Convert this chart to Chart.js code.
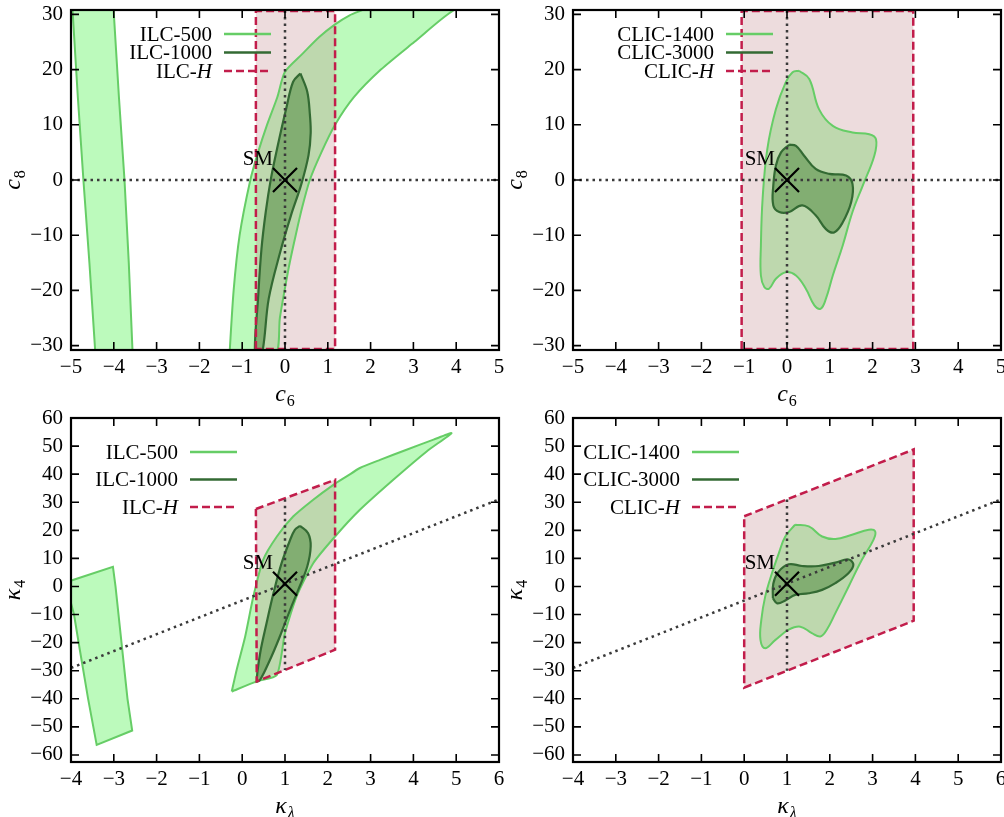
<!DOCTYPE html>
<html>
<head>
<meta charset="utf-8">
<script src="https://cdn.jsdelivr.net/npm/chart.js@4.4.1/dist/chart.umd.min.js"></script>
<style>
  body { margin: 0; background: #fff; }
  #wrap { position: relative; width: 1004px; height: 817px; overflow: hidden; }
  canvas { position: absolute; }
</style>
</head>
<body>
<div id="wrap">
  <!-- left canvases are a bit wider so the last x label is not cut; right ones sit on top -->
  <canvas id="p1" width="514" height="408" style="left:0;top:0"></canvas>
  <canvas id="p3" width="514" height="409" style="left:0;top:408px"></canvas>
  <canvas id="p2" width="502" height="408" style="left:502px;top:0"></canvas>
  <canvas id="p4" width="502" height="409" style="left:502px;top:408px"></canvas>
</div>
<script>
// tick labels / axis ranges
const c6Ticks = [-5, -4, -3, -2, -1, 0, 1, 2, 3, 4, 5];
const c8Ticks = [-30, -20, -10, 0, 10, 20, 30];
const klTicks = [-4, -3, -2, -1, 0, 1, 2, 3, 4, 5, 6];
const k4Ticks = [-60, -50, -40, -30, -20, -10, 0, 10, 20, 30, 40, 50, 60];
const c6Range = [-5, 5];
const c8Range = [-30.8, 30.8];
const klRange = [-4, 6];
const k4Range = [-62.5, 60];

// SM points
const smC = [0, 0];
const smK = [1, 1];

// top left: ILC in (c6, c8)
const ilc500LeftBand = [[-4.97, 31.5], [-4.84, 15], [-4.71, 0], [-4.57, -15], [-4.43, -31.5],
  [-3.56, -31.5], [-3.65, -15], [-3.75, 0], [-3.88, 15], [-4.01, 31.5], [-4.97, 31.5]];
const ilc500MainBand = [[-1.30, -32], [-1.20, -20], [-1.06, -10], [-0.81, 0], [-0.63, 5], [-0.42, 10],
  [-0.18, 15], [0.0, 19.6], [0.40, 22.8], [0.80, 25.9], [1.17, 28.2], [1.50, 29.8], [1.85, 30.9],
  [2.3, 32.4], [4.6, 32.4],
  [3.95, 30.8], [3.02, 25], [2.24, 20], [1.61, 15], [1.17, 10], [0.85, 5], [0.58, 0], [0.40, -5],
  [0.25, -10], [0.11, -15], [-0.01, -20], [-0.12, -25], [-0.24, -32], [-1.30, -32]];
const ilc1000C = [[0.36, 19.3], [0.52, 16], [0.58, 12], [0.60, 8.5], [0.55, 4.5], [0.38, -0.8],
  [0.14, -6.4], [-0.11, -13], [-0.38, -21.5], [-0.55, -32], [-0.70, -32], [-0.63, -21.5],
  [-0.55, -12.5], [-0.45, -5.8], [-0.33, 0.2], [-0.17, 6.2], [0.03, 13], [0.19, 17.8], [0.36, 19.3]];
const ilcHC = [[-0.68, -30.6], [-0.68, 30.6], [1.17, 30.6], [1.17, -30.6], [-0.68, -30.6]];

// top right: CLIC in (c6, c8)
const clic1400C = [[0.28, 19.8], [0.52, 18.3], [0.75, 12.8], [1.07, 9.8], [1.53, 8.6], [1.92, 8.3],
  [2.08, 7.4], [2.04, 4.4], [1.77, -1], [1.53, -5.8], [1.30, -11.9], [1.07, -17.3], [0.91, -21.5],
  [0.79, -23.3], [0.64, -22.7], [0.44, -19.7], [0.21, -17.3], [-0.03, -16.7], [-0.26, -17.9],
  [-0.42, -19.7], [-0.53, -19.4], [-0.61, -17.3], [-0.61, -11.9], [-0.57, -3.4], [-0.46, 5.6],
  [-0.26, 12.8], [-0.03, 17.7], [0.13, 19.5], [0.28, 19.8]];
const clic3000C = [[0.05, 6.4], [0.21, 6.2], [0.40, 4.4], [0.67, 2.0], [0.99, 1.1], [1.38, 0.8],
  [1.53, -0.7], [1.50, -4.0], [1.30, -7.7], [1.10, -9.5], [0.91, -8.9], [0.67, -6.4], [0.36, -4.6],
  [0.05, -5.8], [-0.18, -5.8], [-0.32, -4.6], [-0.32, -1.0], [-0.26, 2.6], [-0.14, 5.0], [0.05, 6.4]];
const clicHC = [[-1.06, -30.6], [-1.06, 30.6], [2.95, 30.6], [2.95, -30.6], [-1.06, -30.6]];

// bottom left: ILC in (kappa_lambda, kappa_4)
const ilc500LeftQuad = [[-4.12, 1.5], [-3.02, 7.0], [-2.96, 0], [-2.82, -20], [-2.68, -40],
  [-2.57, -51.3], [-3.40, -56.4], [-3.60, -40], [-3.80, -22], [-3.93, -10], [-4.05, -3], [-4.12, 1.5]];
const ilc500MainK = [[-0.245, -37.4], [0.34, -33.8], [0.81, -31.5], [1.0, -16.6], [1.27, -3.6],
  [1.66, 8.3], [2.17, 17.8], [2.75, 27.3], [3.53, 38.0], [4.31, 48.1], [4.89, 54.6], [4.47, 52.3],
  [3.84, 48.7], [3.22, 45.1], [2.75, 42.2], [2.44, 39.2], [2.13, 36.2], [1.66, 30.9], [1.19, 24.9],
  [0.81, 17.8], [0.49, 9.5], [0.26, -3.6], [0.07, -17.8], [-0.13, -29.7], [-0.245, -37.4]];
const ilc1000K = [[1.35, 21.6], [1.54, 19.0], [1.60, 14.3], [1.52, 7.1], [1.31, -1.2], [1.12, -8.3],
  [0.88, -17.8], [0.65, -26.1], [0.42, -33.2], [0.34, -33.8], [0.42, -23.7], [0.57, -13.0],
  [0.73, -2.4], [0.92, 8.3], [1.12, 16.6], [1.23, 20.2], [1.35, 21.6]];
const ilcHK = [[0.32, 27.6], [2.17, 38.0], [2.17, -22.5], [0.34, -33.8], [0.32, 27.6]];

// bottom right: CLIC in (kappa_lambda, kappa_4)
const clic1400K = [[1.19, 22.0], [1.51, 21.4], [1.82, 17.8], [2.13, 16.9], [2.52, 18.4], [2.91, 20.2],
  [3.06, 19.6], [3.02, 16.6], [2.75, 9.5], [2.44, 0], [2.13, -9.5], [1.93, -15.4], [1.78, -17.8],
  [1.58, -16.6], [1.31, -14.3], [1.04, -15.4], [0.73, -19], [0.49, -22], [0.38, -19], [0.40, -11.9],
  [0.49, -3.6], [0.65, 4.8], [0.81, 11.9], [0.96, 17.8], [1.19, 22.0]];
const clic3000K = [[0.67, -4.2], [0.68, 1.0], [0.80, 5.2], [1.04, 7.9], [1.35, 7.3], [1.74, 7.3],
  [2.13, 8.5], [2.44, 9.6], [2.55, 7.7], [2.44, 4.8], [2.13, 1.2], [1.82, -1.2], [1.51, -2.4],
  [1.19, -3.0], [0.96, -5.0], [0.77, -6.0], [0.67, -4.2]];
const clicHK = [[0.0, 25.0], [3.96, 48.8], [3.96, -12.2], [0.0, -36.0], [0.0, 25.0]];

// dotted guide lines
const hLineC = [[-5, 0], [5, 0]];
const vLineC = [[0, -31], [0, 31]];
const diagK = [[-4, -29], [6, 31]];
const vLineIlcK = [[1, 31.1], [1, -29.7]];
const vLineClicK = [[1, 31.0], [1, -30.0]];

const LIGHT_FILL = '#bcfabc';
const LIGHT_LINE = '#66cd66';
const DARK_FILL = '#66bd66';
const DARK_LINE = '#336a33';
const PINK_FILL = 'rgba(195,138,142,0.3)';
const PINK_LINE = '#c21d4b';
const DOT_COLOR = '#3a3a3a';
const FONT = '"Liberation Serif", "Times New Roman", serif';

const pts = arr => arr.map(p => ({ x: p[0], y: p[1] }));
const fmt = v => (v < 0 ? '\u2212' + Math.abs(v) : String(v));

function area(arr, fillColor, lineColor, width, tension) {
  return {
    data: pts(arr), showLine: true, fill: 'shape', backgroundColor: fillColor,
    borderColor: lineColor, borderWidth: width, pointRadius: 0, tension: tension
  };
}
function pinkBox(arr) {
  return {
    data: pts(arr), showLine: true, fill: 'shape', backgroundColor: PINK_FILL,
    borderColor: PINK_LINE, borderWidth: 2.5, borderDash: [8, 4], pointRadius: 0, tension: 0
  };
}
function dotted(arr) {
  return {
    data: pts(arr), showLine: true, fill: false, borderColor: DOT_COLOR,
    borderWidth: 2.5, borderDash: [2.5, 4], pointRadius: 0, tension: 0
  };
}
function smPoint(p) {
  return {
    data: pts([p]), showLine: false, pointStyle: 'crossRot', pointRadius: 17,
    pointBorderWidth: 2.2, pointBorderColor: '#000', pointBackgroundColor: 'transparent'
  };
}

function drawMath(ctx, base, sub, cx, baseline, subItalic) {
  ctx.font = 'italic 24px ' + FONT;
  const wb = ctx.measureText(base).width;
  const subFont = (subItalic ? 'italic ' : '') + '16px ' + FONT;
  ctx.font = subFont;
  const ws = ctx.measureText(sub).width;
  const x0 = cx - (wb + ws + 1) / 2;
  ctx.textAlign = 'left';
  ctx.textBaseline = 'alphabetic';
  ctx.font = 'italic 24px ' + FONT;
  ctx.fillText(base, x0, baseline);
  ctx.font = subFont;
  ctx.fillText(sub, x0 + wb + 1, baseline + 5);
}

const deco = {
  id: 'deco',
  afterDatasetsDraw(chart, args, o) {
    const { ctx, chartArea: a, scales: { x, y } } = chart;
    ctx.save();
    ctx.fillStyle = '#000';
    ctx.strokeStyle = '#000';
    // inward ticks on all sides
    ctx.lineWidth = 1.6;
    ctx.beginPath();
    x.ticks.forEach(t => {
      const px = x.getPixelForValue(t.value);
      ctx.moveTo(px, a.bottom); ctx.lineTo(px, a.bottom - 8);
      ctx.moveTo(px, a.top); ctx.lineTo(px, a.top + 8);
    });
    y.ticks.forEach(t => {
      const py = y.getPixelForValue(t.value);
      ctx.moveTo(a.left, py); ctx.lineTo(a.left + 8, py);
      ctx.moveTo(a.right, py); ctx.lineTo(a.right - 8, py);
    });
    ctx.stroke();
    ctx.lineWidth = 2.2;
    ctx.strokeRect(a.left, a.top, a.right - a.left, a.bottom - a.top);

    // SM label
    const sx = x.getPixelForValue(o.sm[0]), sy = y.getPixelForValue(o.sm[1]);
    ctx.font = '21px ' + FONT;
    ctx.textAlign = 'right';
    ctx.textBaseline = 'alphabetic';
    ctx.fillText('SM', sx - 12, sy - 15);

    // legend
    o.legend.forEach((e, i) => {
      const ly = o.legY + i * o.legDy;
      ctx.font = '21px ' + FONT;
      const w1 = ctx.measureText(e.text).width;
      let w2 = 0;
      if (e.it) { ctx.font = 'italic 21px ' + FONT; w2 = ctx.measureText(e.it).width; }
      ctx.textAlign = 'left';
      ctx.textBaseline = 'middle';
      ctx.font = '21px ' + FONT;
      ctx.fillText(e.text, o.legX - w1 - w2, ly + 1);
      if (e.it) { ctx.font = 'italic 21px ' + FONT; ctx.fillText(e.it, o.legX - w2, ly + 1); }
      ctx.beginPath();
      ctx.strokeStyle = e.color;
      ctx.lineWidth = e.width;
      ctx.setLineDash(e.dash || []);
      ctx.moveTo(o.legX + 12, ly); ctx.lineTo(o.legX + 59, ly);
      ctx.stroke();
      ctx.setLineDash([]);
    });

    // axis titles
    ctx.fillStyle = '#000';
    drawMath(ctx, o.xt[0], o.xt[1], (a.left + a.right) / 2, a.bottom + 51, o.xt[2]);
    ctx.save();
    ctx.translate(14, (a.top + a.bottom) / 2);
    ctx.rotate(-Math.PI / 2);
    drawMath(ctx, o.yt[0], o.yt[1], 0, 6, o.yt[2]);
    ctx.restore();
    ctx.restore();
  }
};

function makeChart(id, datasets, xr, xt, yr, yt, pad, padRight, xh, deco) {
  new Chart(document.getElementById(id), {
    type: 'scatter',
    data: { datasets: datasets },
    plugins: [deco.plugin],
    options: {
      responsive: false,
      animation: false,
      events: [],
      layout: { autoPadding: false, padding: { top: pad, right: padRight, left: 0, bottom: 0 } },
      elements: { line: { capBezierPoints: false } },
      plugins: {
        legend: { display: false },
        tooltip: { enabled: false },
        filler: { drawTime: 'beforeDatasetsDraw' },
        deco: deco.opts
      },
      scales: {
        x: {
          type: 'linear', min: xr[0], max: xr[1],
          afterBuildTicks: s => { s.ticks = xt.map(v => ({ value: v })); },
          afterFit: s => { s.height = xh; s.paddingLeft = 0; s.paddingRight = 0; },
          grid: { display: false, drawTicks: false },
          border: { display: false },
          ticks: { font: { family: FONT, size: 21 }, color: '#000', padding: 5, maxRotation: 0, autoSkip: false, callback: fmt }
        },
        y: {
          type: 'linear', min: yr[0], max: yr[1],
          afterBuildTicks: s => { s.ticks = yt.map(v => ({ value: v })); },
          afterFit: s => { s.width = 71; s.paddingTop = 0; s.paddingBottom = 0; },
          grid: { display: false, drawTicks: false },
          border: { display: false },
          ticks: { font: { family: FONT, size: 21 }, color: '#000', padding: 8, autoSkip: false, callback: fmt }
        }
      }
    }
  });
}

const ilcLegend = [
  { text: 'ILC-500', color: LIGHT_LINE, width: 2.5 },
  { text: 'ILC-1000', color: DARK_LINE, width: 2.5 },
  { text: 'ILC-', it: 'H', color: PINK_LINE, width: 2.5, dash: [8, 4] }
];
const clicLegend = [
  { text: 'CLIC-1400', color: LIGHT_LINE, width: 2.5 },
  { text: 'CLIC-3000', color: DARK_LINE, width: 2.5 },
  { text: 'CLIC-', it: 'H', color: PINK_LINE, width: 2.5, dash: [8, 4] }
];

makeChart('p1', [
  smPoint(smC), dotted(hLineC), dotted(vLineC), pinkBox(ilcHC),
  area(ilc1000C, DARK_FILL, DARK_LINE, 2.2, 0.35),
  area(ilc500MainBand, LIGHT_FILL, LIGHT_LINE, 2, 0.25),
  area(ilc500LeftBand, LIGHT_FILL, LIGHT_LINE, 2, 0)
], c6Range, c6Ticks, c8Range, c8Ticks, 10, 15, 58,
  { plugin: deco, opts: { sm: smC, legend: ilcLegend, legX: 212, legY: 34, legDy: 18.5, xt: ['c', '6'], yt: ['c', '8'] } });

makeChart('p2', [
  smPoint(smC), dotted(hLineC), dotted(vLineC), pinkBox(clicHC),
  area(clic3000C, DARK_FILL, DARK_LINE, 2.2, 0.4),
  area(clic1400C, LIGHT_FILL, LIGHT_LINE, 2, 0.4)
], c6Range, c6Ticks, c8Range, c8Ticks, 10, 3, 58,
  { plugin: deco, opts: { sm: smC, legend: clicLegend, legX: 212, legY: 34, legDy: 18.5, xt: ['c', '6'], yt: ['c', '8'] } });

makeChart('p3', [
  smPoint(smK), dotted(diagK), dotted(vLineIlcK), pinkBox(ilcHK),
  area(ilc1000K, DARK_FILL, DARK_LINE, 2.2, 0.35),
  area(ilc500MainK, LIGHT_FILL, LIGHT_LINE, 2, 0.2),
  area(ilc500LeftQuad, LIGHT_FILL, LIGHT_LINE, 2, 0)
], klRange, klTicks, k4Range, k4Ticks, 10, 15, 55,
  { plugin: deco, opts: { sm: smK, legend: ilcLegend, legX: 178, legY: 44, legDy: 27.5, xt: ['\u03ba', '\u03bb', true], yt: ['\u03ba', '4'] } });

makeChart('p4', [
  smPoint(smK), dotted(diagK), dotted(vLineClicK), pinkBox(clicHK),
  area(clic3000K, DARK_FILL, DARK_LINE, 2.2, 0.4),
  area(clic1400K, LIGHT_FILL, LIGHT_LINE, 2, 0.4)
], klRange, klTicks, k4Range, k4Ticks, 10, 3, 55,
  { plugin: deco, opts: { sm: smK, legend: clicLegend, legX: 178, legY: 44, legDy: 27.5, xt: ['\u03ba', '\u03bb', true], yt: ['\u03ba', '4'] } });
</script>
</body>
</html>
